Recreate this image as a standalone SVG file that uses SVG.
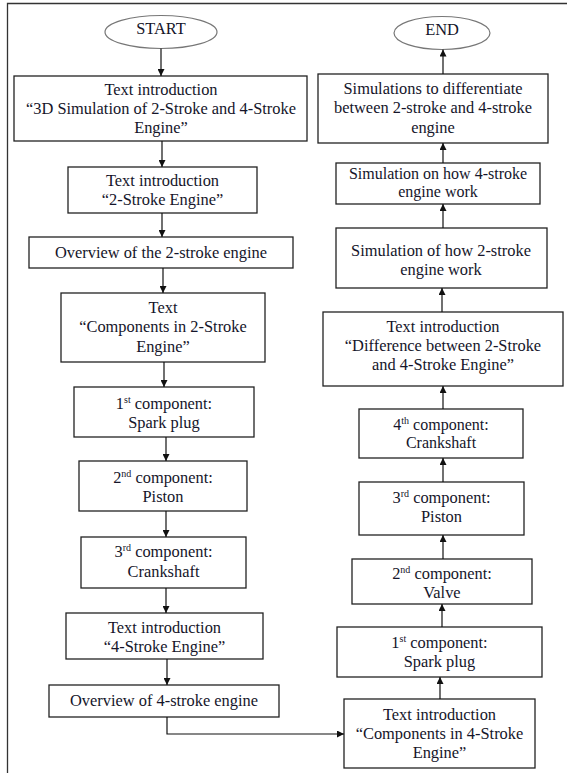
<svg xmlns="http://www.w3.org/2000/svg" width="567" height="773" viewBox="0 0 567 773">
<defs>
<style>
.b{fill:#fff;stroke:#222;stroke-width:1.3}
.e{fill:#fff;stroke:#777;stroke-width:1.2}
.t{font-family:"Liberation Serif","Times New Roman",serif;font-size:16.4px;fill:#15152a;text-anchor:middle}
.n{font-size:16px}
.s{font-size:10px}
.c{fill:none;stroke:#111;stroke-width:1.2}
.f{fill:none;stroke:#333;stroke-width:1.3}
</style>
<marker id="a" viewBox="0 0 10 10" refX="10" refY="5" markerWidth="7" markerHeight="7" markerUnits="userSpaceOnUse" orient="auto">
<path d="M0,0 L10,5 L0,10 z" fill="#111"/>
</marker>
</defs>
<rect width="567" height="773" fill="#fff"/>
<path class="f" d="M7.5,773 V3.5 H567"/>

<g id="start"><ellipse class="e" cx="161" cy="32" rx="56" ry="16.5"/><text class="t" x="161" y="34">START</text></g>
<g id="L1"><rect class="b" x="14" y="76" width="293" height="65"/><text class="t" x="161" y="95">Text introduction</text><text class="t" x="161" y="114">“3D Simulation of 2-Stroke and 4-Stroke</text><text class="t" x="161" y="133">Engine”</text></g>
<g id="L2"><rect class="b" x="68" y="167" width="189" height="46"/><text class="t" x="162.5" y="186">Text introduction</text><text class="t" x="162.5" y="205">“2-Stroke Engine”</text></g>
<g id="L3"><rect class="b" x="29" y="237" width="264" height="31"/><text class="t" x="161" y="258">Overview of the 2-stroke engine</text></g>
<g id="L4"><rect class="b" x="61" y="293" width="204" height="69"/><text class="t" x="163" y="313">Text</text><text class="t" x="163" y="332">“Components in 2-Stroke</text><text class="t" x="163" y="352">Engine”</text></g>
<g id="L5"><rect class="b" x="74" y="387" width="180" height="50"/><text class="t" x="164" y="409">1<tspan class="s" dy="-6">st</tspan><tspan dy="6"> component:</tspan></text><text class="t" x="164" y="428">Spark plug</text></g>
<g id="L6"><rect class="b" x="79" y="461" width="168" height="50"/><text class="t" x="163" y="483">2<tspan class="s" dy="-6">nd</tspan><tspan dy="6"> component:</tspan></text><text class="t" x="163" y="502">Piston</text></g>
<g id="L7"><rect class="b" x="81" y="537" width="165" height="51"/><text class="t" x="163.5" y="557">3<tspan class="s" dy="-6">rd</tspan><tspan dy="6"> component:</tspan></text><text class="t" x="163.5" y="577">Crankshaft</text></g>
<g id="L8"><rect class="b" x="66" y="613" width="197" height="46"/><text class="t" x="164.5" y="633">Text introduction</text><text class="t" x="164.5" y="652">“4-Stroke Engine”</text></g>
<g id="L9"><rect class="b" x="49" y="685" width="230" height="32"/><text class="t" x="164" y="706">Overview of 4-stroke engine</text></g>

<g id="end"><ellipse class="e" cx="442" cy="33" rx="48" ry="16.5"/><text class="t" x="442" y="35">END</text></g>
<g id="R1"><rect class="b" x="318" y="74" width="230" height="69"/><text class="t" x="433" y="94">Simulations to differentiate</text><text class="t" x="433" y="113">between 2-stroke and 4-stroke</text><text class="t" x="433" y="133">engine</text></g>
<g id="R2"><rect class="b" x="336" y="163" width="204" height="41"/><text class="t n" x="438" y="179">Simulation on how 4-stroke</text><text class="t n" x="438" y="197">engine work</text></g>
<g id="R3"><rect class="b" x="336" y="228" width="211" height="60"/><text class="t" x="441" y="256">Simulation of how 2-stroke</text><text class="t" x="441" y="275">engine work</text></g>
<g id="R4"><rect class="b" x="323" y="312" width="240" height="74"/><text class="t" x="443" y="332">Text introduction</text><text class="t" x="443" y="351">“Difference between 2-Stroke</text><text class="t" x="443" y="370">and 4-Stroke Engine”</text></g>
<g id="R5"><rect class="b" x="359" y="409" width="164" height="49"/><text class="t n" x="441" y="430">4<tspan class="s" dy="-6">th</tspan><tspan dy="6"> component:</tspan></text><text class="t n" x="441" y="448">Crankshaft</text></g>
<g id="R6"><rect class="b" x="359" y="482" width="165" height="53"/><text class="t" x="441.5" y="503">3<tspan class="s" dy="-6">rd</tspan><tspan dy="6"> component:</tspan></text><text class="t" x="441.5" y="522">Piston</text></g>
<g id="R7"><rect class="b" x="352" y="559" width="180" height="45"/><text class="t" x="442" y="579">2<tspan class="s" dy="-6">nd</tspan><tspan dy="6"> component:</tspan></text><text class="t" x="442" y="598">Valve</text></g>
<g id="R8"><rect class="b" x="337" y="627" width="205" height="50"/><text class="t" x="439.5" y="648">1<tspan class="s" dy="-6">st</tspan><tspan dy="6"> component:</tspan></text><text class="t" x="439.5" y="667">Spark plug</text></g>
<g id="R9"><rect class="b" x="344" y="699" width="191" height="69"/><text class="t" x="439.5" y="720">Text introduction</text><text class="t" x="439.5" y="739">“Components in 4-Stroke</text><text class="t" x="439.5" y="758">Engine”</text></g>

<g id="connectors">
<path class="c" marker-end="url(#a)" d="M161,48.5 V76"/>
<path class="c" marker-end="url(#a)" d="M162,141 V167"/>
<path class="c" marker-end="url(#a)" d="M162,213 V237"/>
<path class="c" marker-end="url(#a)" d="M163,268 V293"/>
<path class="c" marker-end="url(#a)" d="M164,362 V387"/>
<path class="c" marker-end="url(#a)" d="M166,437 V461"/>
<path class="c" marker-end="url(#a)" d="M166,511 V537"/>
<path class="c" marker-end="url(#a)" d="M166,588 V613"/>
<path class="c" marker-end="url(#a)" d="M167,659 V685"/>
<path class="c" marker-end="url(#a)" d="M167,717 V734 H344"/>
<path class="c" marker-end="url(#a)" d="M440,699 V677"/>
<path class="c" marker-end="url(#a)" d="M442,627 V604"/>
<path class="c" marker-end="url(#a)" d="M443,559 V535"/>
<path class="c" marker-end="url(#a)" d="M443,482 V458"/>
<path class="c" marker-end="url(#a)" d="M443,409 V386"/>
<path class="c" marker-end="url(#a)" d="M442,312 V288"/>
<path class="c" marker-end="url(#a)" d="M443,228 V204"/>
<path class="c" marker-end="url(#a)" d="M443,163 V143"/>
<path class="c" marker-end="url(#a)" d="M443,74 V49.5"/>
</g>
</svg>
